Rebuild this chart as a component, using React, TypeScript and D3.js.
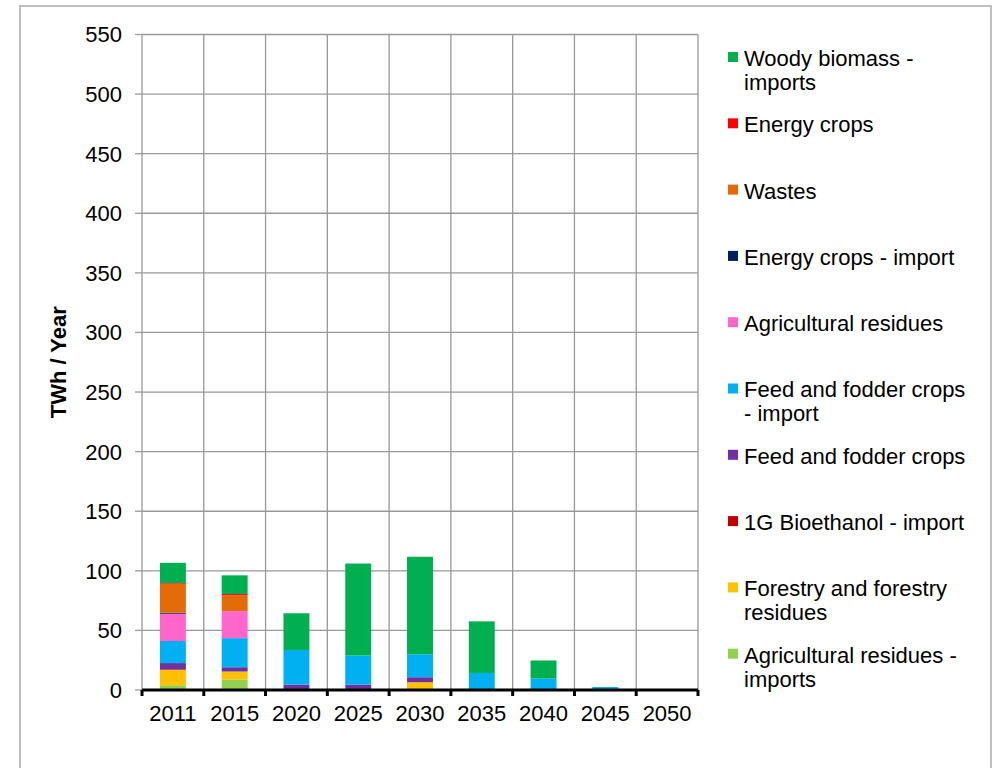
import React from "react";
import * as d3 from "d3";

const years = ["2011", "2015", "2020", "2025", "2030", "2035", "2040", "2045", "2050"];

// stacked bottom -> top
const agResiduesImports = [4, 8.8, 0, 0, 0, 0, 0, 0, 0];
const forestry = [12.8, 6.7, 0, 0, 6.5, 0, 0, 0, 0];
const bioethanolImport = [0.5, 0, 0, 0, 0, 0, 0, 0, 0];
const feedFodder = [5.3, 3.6, 4.5, 4.5, 4.2, 0, 0, 0, 0];
const feedFodderImport = [18.5, 24.4, 29.1, 24.4, 19.3, 14.3, 9.7, 2.5, 0];
const agResidues = [22.9, 22.7, 0, 0, 0, 0, 0, 0, 0];
const energyCropsImport = [0.8, 0, 0, 0, 0, 0, 0, 0, 0];
const wastes = [24.3, 13.2, 0, 0, 0, 0, 0, 0, 0];
const energyCrops = [0.6, 1.1, 0, 0, 0, 0, 0, 0, 0];
const woodyImports = [17, 15.7, 30.8, 77.2, 81.8, 43.3, 15.1, 0, 0];

const yTicks = [0, 50, 100, 150, 200, 250, 300, 350, 400, 450, 500, 550];

const series = [
  { key: "agResiduesImports", name: ["Agricultural residues -", "imports"], color: "#92D050", values: agResiduesImports },
  { key: "forestry", name: ["Forestry and forestry", "residues"], color: "#FFC000", values: forestry },
  { key: "bioethanolImport", name: ["1G Bioethanol - import"], color: "#C00000", values: bioethanolImport },
  { key: "feedFodder", name: ["Feed and fodder crops"], color: "#7030A0", values: feedFodder },
  { key: "feedFodderImport", name: ["Feed and fodder crops", "- import"], color: "#00B0F0", values: feedFodderImport },
  { key: "agResidues", name: ["Agricultural residues"], color: "#FF66CC", values: agResidues },
  { key: "energyCropsImport", name: ["Energy crops - import"], color: "#002060", values: energyCropsImport },
  { key: "wastes", name: ["Wastes"], color: "#E36C09", values: wastes },
  { key: "energyCrops", name: ["Energy crops"], color: "#FF0000", values: energyCrops },
  { key: "woodyImports", name: ["Woody biomass -", "imports"], color: "#00B050", values: woodyImports },
];

const W = 997;
const H = 768;
const plot = { left: 142, right: 698, top: 34.5, bottom: 690 };
const FONT = "'Liberation Sans', Arial, Helvetica, sans-serif";
const FS = 22;

export default function App() {
  const x = d3.scaleBand<string>().domain(years).range([plot.left, plot.right]).paddingInner(0.58).paddingOuter(0.29);
  const xb = d3.scaleBand<string>().domain(years).range([plot.left, plot.right]);
  const y = d3.scaleLinear().domain([0, 550]).range([plot.bottom, plot.top]);

  const table = years.map((yr, i) => {
    const row: Record<string, any> = { year: yr };
    series.forEach((s) => (row[s.key] = s.values[i]));
    return row;
  });
  const stacked = d3.stack<any>().keys(series.map((s) => s.key))(table);

  const boundaries = years.map((yr) => xb(yr)!).concat([plot.right]);
  const legendX = 728;
  const legendY0 = 58;
  const legendStep = 66.3;

  return (
    <svg width={W} height={H} style={{ position: "absolute", left: 0, top: 0, background: "#fff" }} fontFamily={FONT}>
      <rect x={0} y={0} width={W} height={H} fill="#fff" />
      <rect x={20} y={6} width={971} height={800} fill="none" stroke="#BFBFBF" strokeWidth={2} />

      {/* horizontal gridlines */}
      {yTicks.map((t) => (
        <g key={t}>
          {t > 0 && <line x1={plot.left} x2={plot.right} y1={y(t)} y2={y(t)} stroke="#999" strokeWidth={1.3} />}
          <line x1={135} x2={plot.left} y1={y(t)} y2={y(t)} stroke="#999" strokeWidth={1.3} />
          <text x={122} y={y(t)} dy="0.36em" textAnchor="end" fontSize={FS} fill="#000">
            {t}
          </text>
        </g>
      ))}
      {/* vertical gridlines */}
      {boundaries.map((bx, i) => (
        <line key={i} x1={bx} x2={bx} y1={plot.top} y2={plot.bottom} stroke="#999" strokeWidth={1.3} />
      ))}

      {/* bars */}
      {stacked.map((layer, li) => (
        <g key={layer.key} fill={series[li].color}>
          {layer.map((d, i) =>
            d[1] - d[0] > 0 ? (
              <rect
                key={i}
                x={x(years[i])}
                width={x.bandwidth()}
                y={y(d[1])}
                height={y(d[0]) - y(d[1])}
              />
            ) : null
          )}
        </g>
      ))}

      {/* x axis */}
      <line x1={plot.left} x2={plot.right} y1={plot.bottom} y2={plot.bottom} stroke="#000" strokeWidth={3} />
      {boundaries.map((bx, i) => (
        <line key={i} x1={bx} x2={bx} y1={plot.bottom} y2={plot.bottom + 6} stroke="#000" strokeWidth={3} />
      ))}
      {years.map((yr) => (
        <text key={yr} x={xb(yr)! + xb.bandwidth() / 2} y={721} textAnchor="middle" fontSize={FS} fill="#000">
          {yr}
        </text>
      ))}

      {/* y title */}
      <text
        transform={`translate(66,${(plot.top + plot.bottom) / 2}) rotate(-90)`}
        textAnchor="middle"
        fontSize={FS}
        fontWeight="bold"
        fill="#000"
      >
        TWh / Year
      </text>

      {/* legend */}
      {series
        .slice()
        .reverse()
        .map((s, i) => {
          const ly = legendY0 + i * legendStep;
          return (
            <g key={s.key}>
              <rect x={legendX} y={ly - 6} width={10} height={10} fill={s.color} />
              {s.name.map((line, j) => (
                <text key={j} x={744} y={ly + j * 24} dy="0.36em" fontSize={FS} fill="#000">
                  {line}
                </text>
              ))}
            </g>
          );
        })}
    </svg>
  );
}
